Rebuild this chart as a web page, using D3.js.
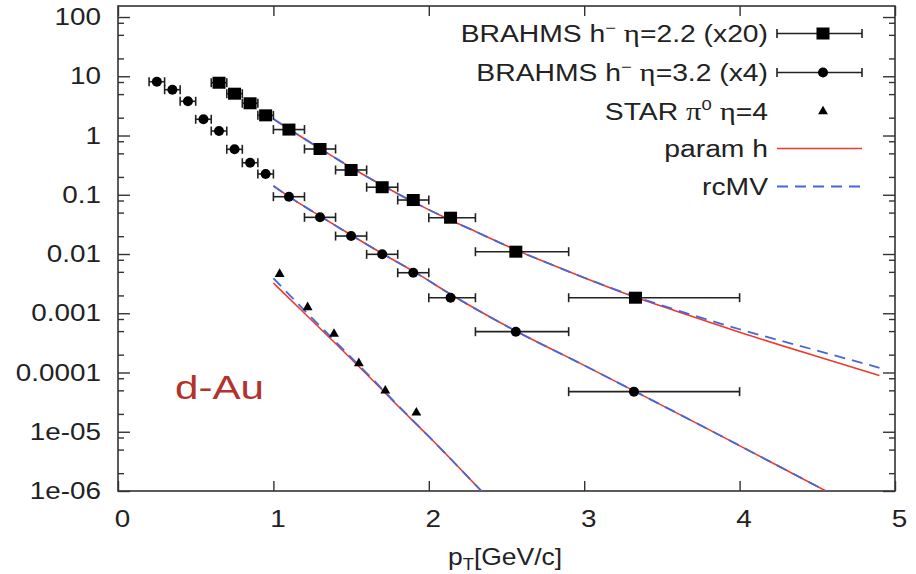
<!DOCTYPE html>
<html><head><meta charset="utf-8">
<script src="https://cdn.jsdelivr.net/npm/d3@7"></script>
<style>
body{margin:0;background:#fff}
svg{display:block}
text{font-family:"Liberation Sans",Arial,Helvetica,sans-serif;fill:#222}
</style>
</head><body>
<svg id="c" width="916" height="574"></svg>
<script>
// ---------- data ----------
// BRAHMS h- eta=2.2 (x20) : squares
const sqPt  = [0.65,0.75,0.85,0.95,1.1,1.3,1.5,1.7,1.9,2.14,2.56,3.33];
const sqLo  = [0.6,0.7,0.8,0.9,1.0,1.2,1.4,1.6,1.8,2.0,2.3,2.9];
const sqHi  = [0.7,0.8,0.9,1.0,1.2,1.4,1.6,1.8,2.0,2.3,2.9,4.0];
const sqVal = [7.78,5.08,3.50,2.19,1.26,0.592,0.262,0.134,0.0815,0.0410,0.01094,0.00183];
// BRAHMS h- eta=3.2 (x4) : circles
const ciPt  = [0.25,0.35,0.45,0.55,0.65,0.75,0.85,0.95,1.1,1.3,1.5,1.7,1.9,2.14,2.56,3.32];
const ciLo  = [0.2,0.3,0.4,0.5,0.6,0.7,0.8,0.9,1.0,1.2,1.4,1.6,1.8,2.0,2.3,2.9];
const ciHi  = [0.3,0.4,0.5,0.6,0.7,0.8,0.9,1.0,1.2,1.4,1.6,1.8,2.0,2.3,2.9,4.0];
const ciVal = [8.09,5.93,3.78,1.88,1.19,0.585,0.347,0.224,0.0927,0.0416,0.0201,0.00988,0.00483,0.00183,0.000489,4.75e-5];
// STAR pi0 eta=4 : triangles
const trPt  = [1.04,1.22,1.39,1.55,1.72,1.92];
const trVal = [0.00459,0.00126,0.000447,0.000143,4.93e-5,2.10e-5];

// curves: param h (red) and rcMV (blue dashed)
const c1x     = [1.0,1.1,1.3,1.5,1.7,1.9,2.1,2.3,2.56,2.8,3.0,3.33,3.6,4.0,4.5,4.9];
const c1Param = [1.905,1.288,0.603,0.288,0.1445,0.0759,0.0417,0.0240,0.01175,0.00646,0.00398,0.00186,1.07e-3,4.79e-4,1.86e-4,8.9e-5];
const c1Rcmv  = [1.905,1.288,0.603,0.288,0.1445,0.0759,0.0417,0.0240,0.01175,0.00646,0.00398,1.905e-3,1.12e-3,5.37e-4,2.34e-4,1.20e-4];
const c2x     = [1.0,1.1,1.3,1.5,1.7,1.9,2.14,2.56,3.0,3.32,3.8,4.2,4.6];
const c2Param = [0.141,0.0933,0.0437,0.0209,0.0102,0.00513,0.00209,5.01e-4,1.32e-4,4.9e-5,1.096e-5,3.09e-6,8.7e-7];
const c2Rcmv  = [0.141,0.0933,0.0437,0.0209,0.0102,0.00513,0.00209,5.01e-4,1.32e-4,4.9e-5,1.096e-5,3.09e-6,8.7e-7];
const c3x     = [1.0,1.2,1.4,1.6,1.8,2.0,2.2,2.4];
const c3Param = [3.24e-3,1.0e-3,3.09e-4,9.33e-5,2.75e-5,8.32e-6,2.40e-6,6.76e-7];
const c3Rcmv  = [3.89e-3,1.12e-3,3.31e-4,9.77e-5,2.82e-5,8.32e-6,2.40e-6,6.76e-7];

const xTicks = [0,1,2,3,4,5];
const yTicks = [1e-6,1e-5,1e-4,1e-3,1e-2,1e-1,1,10,100];
const yTickLabels = ["1e-06","1e-05","0.0001","0.001","0.01","0.1","1","10","100"];
const yMinor = [];
for (let e=-6;e<=2;e++){ [2,5,8].forEach(m=>{const v=m*Math.pow(10,e-(m===8?1:0)); if(v>1e-6 && v<150) yMinor.push(v);}); }

const legendLabels = ["BRAHMS h","BRAHMS h","STAR ","param h","rcMV"];

// ---------- layout ----------
const L=118,R=895,T=6,B=491;
const RED="#ee3a2c", BLUE="#4666de", INK="#222";
const SX=1.16; // horizontal text stretch of the original

const svg=d3.select("#c");
const x=d3.scaleLinear().domain([0,5]).range([L,R]);
const y=d3.scaleLog().domain([1e-6,Math.pow(10,2.186)]).range([B,T]);

svg.append("defs").append("clipPath").attr("id","clip")
  .append("rect").attr("x",L).attr("y",T).attr("width",R-L).attr("height",B-T);

// ---------- axes ----------
function styleAxis(g){
  g.select(".domain").remove();
  g.selectAll(".tick line").attr("stroke","#333").attr("stroke-width",1.4);
}
const gx=svg.append("g").attr("transform",`translate(0,${B})`)
  .call(d3.axisBottom(x).tickValues(xTicks).tickSizeInner(-10).tickSizeOuter(0).tickPadding(19).tickFormat(d3.format("d")));
styleAxis(gx);
gx.selectAll("text").attr("font-size",24).attr("fill",INK).attr("x",4/SX).attr("transform",`scale(${SX},1)`)
  .style("font-family",'"Liberation Sans",Arial,sans-serif');

const gxt=svg.append("g").attr("transform",`translate(0,${T})`)
  .call(d3.axisTop(x).tickValues(xTicks).tickSizeInner(-10).tickSizeOuter(0).tickFormat(""));
styleAxis(gxt);

const gy=svg.append("g").attr("transform",`translate(${L},0)`)
  .call(d3.axisLeft(y).tickValues(yTicks).tickSizeInner(-12).tickSizeOuter(0).tickPadding(17)
    .tickFormat((d,i)=>yTickLabels[i]));
styleAxis(gy);
gy.selectAll("text").attr("font-size",24).attr("fill",INK).attr("x",-17/SX).attr("transform",`scale(${SX},1)`)
  .style("font-family",'"Liberation Sans",Arial,sans-serif');
const gym=svg.append("g").attr("transform",`translate(${L},0)`)
  .call(d3.axisLeft(y).tickValues(yMinor).tickSizeInner(-6).tickSizeOuter(0).tickFormat(""));
styleAxis(gym);

const gyr=svg.append("g").attr("transform",`translate(${R},0)`)
  .call(d3.axisRight(y).tickValues(yTicks).tickSizeInner(-12).tickSizeOuter(0).tickFormat(""));
styleAxis(gyr);
const gyrm=svg.append("g").attr("transform",`translate(${R},0)`)
  .call(d3.axisRight(y).tickValues(yMinor).tickSizeInner(-6).tickSizeOuter(0).tickFormat(""));
styleAxis(gyrm);

// frame
svg.append("rect").attr("x",L).attr("y",T).attr("width",R-L).attr("height",B-T)
  .attr("fill","none").attr("stroke","#333").attr("stroke-width",1.6);

// x label
const xl=svg.append("g").attr("transform",`translate(505,565) scale(1.15,1)`)
  .append("text").attr("text-anchor","middle").attr("font-size",23);
xl.append("tspan").text("p");
xl.append("tspan").attr("dy",5).attr("font-size",16).text("T");
xl.append("tspan").attr("dy",-5).attr("font-size",23).text("[GeV/c]");

// d-Au
svg.append("g").attr("transform",`translate(175,399) scale(1.24,1)`)
  .append("text").attr("font-size",34).style("fill","#b3322c").text("d-Au");

// ---------- curves ----------
const line=d3.line().x(d=>x(d[0])).y(d=>y(d[1])).curve(d3.curveMonotoneX);
const plot=svg.append("g").attr("clip-path","url(#clip)");
[[c1x,c1Param,c1Rcmv],[c2x,c2Param,c2Rcmv],[c3x,c3Param,c3Rcmv]].forEach(([xs,p,r])=>{
  plot.append("path").attr("d",line(xs.map((v,i)=>[v,p[i]]))).attr("fill","none")
    .attr("stroke",RED).attr("stroke-width",1.6);
  plot.append("path").attr("d",line(xs.map((v,i)=>[v,r[i]]))).attr("fill","none")
    .attr("stroke",BLUE).attr("stroke-width",1.8).attr("stroke-dasharray","11,7");
});

// ---------- data points ----------
const pts=svg.append("g");
function errbars(pt,lo,hi,val){
  pt.forEach((p,i)=>{
    const yy=y(val[i]);
    pts.append("line").attr("x1",x(lo[i])).attr("x2",x(hi[i])).attr("y1",yy).attr("y2",yy)
      .attr("stroke",INK).attr("stroke-width",1.6);
    [lo[i],hi[i]].forEach(e=>pts.append("line").attr("x1",x(e)).attr("x2",x(e))
      .attr("y1",yy-4.5).attr("y2",yy+4.5).attr("stroke",INK).attr("stroke-width",1.6));
  });
}
errbars(sqPt,sqLo,sqHi,sqVal);
errbars(ciPt,ciLo,ciHi,ciVal);
sqPt.forEach((p,i)=>pts.append("rect").attr("x",x(p)-6.5).attr("y",y(sqVal[i])-6)
  .attr("width",13).attr("height",12).attr("fill","#000"));
ciPt.forEach((p,i)=>pts.append("circle").attr("cx",x(p)).attr("cy",y(ciVal[i])).attr("r",5).attr("fill","#000"));
const tri=d3.symbol().type(d3.symbolTriangle).size(42);
trPt.forEach((p,i)=>pts.append("path").attr("d",tri()).attr("transform",`translate(${x(p)},${y(trVal[i])})`).attr("fill","#000"));

// ---------- legend ----------
const LX=768, SL=777, SR=862, SC=823;
const rowBase=[42,81,120,157,195];
const LS=1.23, LF=23;
const leg=svg.append("g");
function legText(i){
  return leg.append("g").attr("transform",`translate(${LX},${rowBase[i]}) scale(${LS},1)`)
    .append("text").attr("text-anchor","end").attr("font-size",LF);
}
const serif='"Liberation Serif","DejaVu Serif",serif';
// row 1
let t=legText(0); t.append("tspan").text(legendLabels[0]);
t.append("tspan").attr("dy",-9).attr("font-size",15).text("\u2212");
t.append("tspan").attr("dy",9).attr("font-size",LF).text("\u00a0");
t.append("tspan").style("font-family",serif).attr("font-size",25).text("\u03b7");
t.append("tspan").text("=2.2 (x20)");
// row 2
t=legText(1); t.append("tspan").text(legendLabels[1]);
t.append("tspan").attr("dy",-9).attr("font-size",15).text("\u2212");
t.append("tspan").attr("dy",9).attr("font-size",LF).text("\u00a0");
t.append("tspan").style("font-family",serif).attr("font-size",25).text("\u03b7");
t.append("tspan").text("=3.2 (x4)");
// row 3
t=legText(2); t.append("tspan").text(legendLabels[2]);
t.append("tspan").style("font-family",serif).attr("font-size",25).text("\u03c0");
t.append("tspan").attr("dy",-10).attr("font-size",15).text("0");
t.append("tspan").attr("dy",10).attr("font-size",LF).text("\u00a0");
t.append("tspan").style("font-family",serif).attr("font-size",25).text("\u03b7");
t.append("tspan").text("=4");
// rows 4,5
legText(3).text(legendLabels[3]);
legText(4).text(legendLabels[4]);

const sy=rowBase.map(b=>b-8.5);
[0,1].forEach(i=>{
  leg.append("line").attr("x1",SL).attr("x2",SR).attr("y1",sy[i]).attr("y2",sy[i]).attr("stroke",INK).attr("stroke-width",1.6);
  [SL,SR].forEach(e=>leg.append("line").attr("x1",e).attr("x2",e).attr("y1",sy[i]-4.5).attr("y2",sy[i]+4.5).attr("stroke",INK).attr("stroke-width",1.6));
});
leg.append("rect").attr("x",SC-6.5).attr("y",sy[0]-6).attr("width",13).attr("height",12).attr("fill","#000");
leg.append("circle").attr("cx",SC).attr("cy",sy[1]).attr("r",5).attr("fill","#000");
leg.append("path").attr("d",tri()).attr("transform",`translate(${SC},${sy[2]})`).attr("fill","#000");
leg.append("line").attr("x1",SL).attr("x2",SR).attr("y1",sy[3]).attr("y2",sy[3]).attr("stroke",RED).attr("stroke-width",1.6);
leg.append("line").attr("x1",SL).attr("x2",SR).attr("y1",sy[4]).attr("y2",sy[4]).attr("stroke",BLUE).attr("stroke-width",1.8).attr("stroke-dasharray","11,7");
</script>
</body></html>
